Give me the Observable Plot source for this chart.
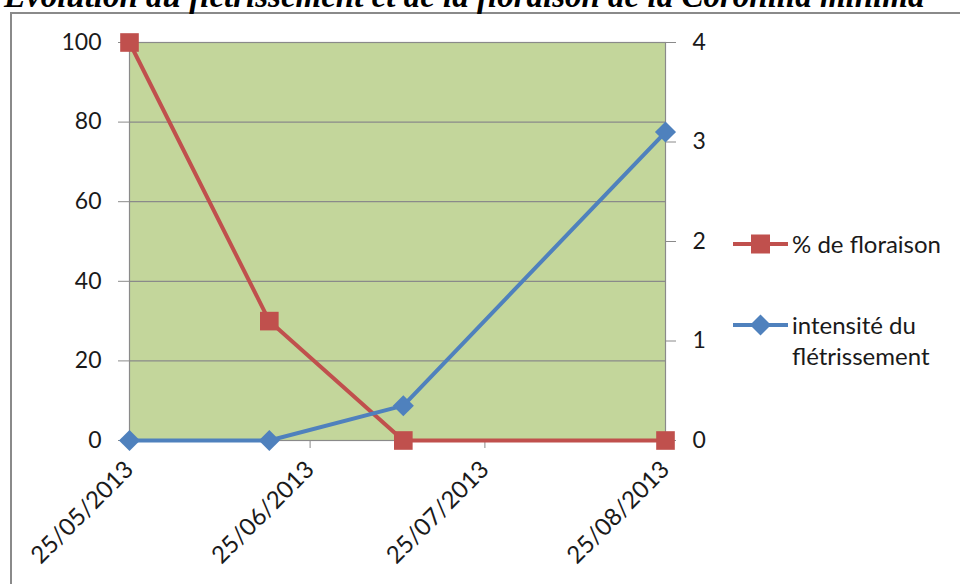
<!DOCTYPE html>
<html>
<head>
<meta charset="utf-8">
<script src="https://cdn.jsdelivr.net/npm/d3@7"></script>
<script src="https://cdn.jsdelivr.net/npm/@observablehq/plot@0.6"></script>
<style>
  html, body { margin: 0; padding: 0; background: #fff; }
  #wrap { position: relative; width: 960px; height: 584px; overflow: hidden; }
  #title { position: absolute; left: 4px; top: -19.7px; font-family: "Liberation Serif", serif; font-weight: bold; font-style: italic; font-size: 33px; line-height: 33px; white-space: nowrap; color: #000; }
  #border { position: absolute; left: 10px; top: 12px; width: 1000px; height: 700px; border: 2px solid #8a8a8a; box-sizing: border-box; }
  #chart { position: absolute; left: 0; top: 0; }
  #legend { position: absolute; left: 733px; top: 226px; font-family: Lato, "Open Sans", sans-serif; font-size: 24px; color: #1a1a1a; }
  .item { position: absolute; left: 0; white-space: nowrap; }
  .item svg { position: absolute; left: 0; }
  .item span { position: absolute; left: 59px; line-height: 31px; }
</style>
</head>
<body>
<div id="wrap">
  <div id="border"></div>
  <div id="chart"></div>
  <div id="title">Evolution du flétrissement et de la floraison de la Coronilla minima</div>
  <div id="legend"></div>
</div>
<script>
// ---- data ----
const dates = ["2013-05-25", "2013-06-18", "2013-07-11", "2013-08-25"];
const floraison = [100, 30, 0, 0];          // % de floraison (left axis)
const fletrissement = [0, 0, 0.35, 3.1];    // intensité du flétrissement (right axis)
const xTickLabels = ["2013-05-25", "2013-06-25", "2013-07-25", "2013-08-25"];
const leftTicks = [0, 20, 40, 60, 80, 100];
const rightTicks = [0, 1, 2, 3, 4];
const seriesNames = ["% de floraison", "intensité du flétrissement"];
const colors = ["#c0504d", "#4f81bd"];

const ratio = 100 / 4; // right axis -> left axis
const parse = d3.utcParse("%Y-%m-%d");
const red = dates.map((d, i) => ({date: parse(d), v: floraison[i]}));
const blue = dates.map((d, i) => ({date: parse(d), v: fletrissement[i] * ratio}));

const font = 'Lato, "Open Sans", sans-serif';
const chart = Plot.plot({
  width: 960,
  height: 584,
  marginLeft: 129,
  marginRight: 295,
  marginTop: 42,
  marginBottom: 144,
  style: {fontFamily: font, fontSize: "23px", color: "#1a1a1a", background: "transparent", overflow: "visible"},
  x: {type: "utc", domain: [parse(dates[0]), parse(dates[dates.length - 1])]},
  y: {domain: [0, 100]},
  marks: [
    Plot.frame({fill: "#c3d69b", stroke: "#8a8a8a", strokeWidth: 1.2}),
    Plot.gridY(leftTicks, {stroke: "#8a8a8a", strokeOpacity: 1, strokeWidth: 1.2}),
    Plot.axisY(leftTicks, {anchor: "left", tickSize: 11, tickPadding: 17, stroke: "#8a8a8a", label: null, fontSize: 23}),
    Plot.axisY(rightTicks.map(v => v * ratio), {anchor: "right", tickSize: 10, tickPadding: 17, stroke: "#8a8a8a", tickFormat: d => d / ratio, label: null, fontSize: 23}),
    Plot.axisX(xTickLabels.map(parse), {tickSize: 8, tickPadding: 17, tickRotate: -45, stroke: "#8a8a8a", tickFormat: d3.utcFormat("%d/%m/%Y"), label: null, fontSize: 24}),
    Plot.line(red, {x: "date", y: "v", stroke: colors[0], strokeWidth: 4}),
    Plot.line(blue, {x: "date", y: "v", stroke: colors[1], strokeWidth: 4}),
    Plot.dot(red, {x: "date", y: "v", symbol: "square", r: 10.5, fill: colors[0], stroke: null}),
    Plot.dot(blue, {x: "date", y: "v", symbol: "diamond2", r: 9.5, fill: colors[1], stroke: null})
  ]
});
document.getElementById("chart").appendChild(chart);

// ---- legend ----
const legend = document.getElementById("legend");
const items = [
  {top: 0, label: "% de floraison", color: colors[0], sym: "square"},
  {top: 81, label: "intensité du<br>flétrissement", color: colors[1], sym: "diamond"}
];
items.forEach(it => {
  const div = document.createElement("div");
  div.className = "item";
  div.style.top = it.top + "px";
  const shape = it.sym === "square"
    ? `<rect x="18" y="8.5" width="19" height="19" fill="${it.color}"/>`
    : `<path d="M27.5 7.5 L38 18 L27.5 28.5 L17 18 Z" fill="${it.color}"/>`;
  div.innerHTML = `<svg width="56" height="36" style="top:0"><line x1="0" x2="55" y1="18" y2="18" stroke="${it.color}" stroke-width="4"/>${shape}</svg><span style="top:2px">${it.label}</span>`;
  legend.appendChild(div);
});
</script>
</body>
</html>
